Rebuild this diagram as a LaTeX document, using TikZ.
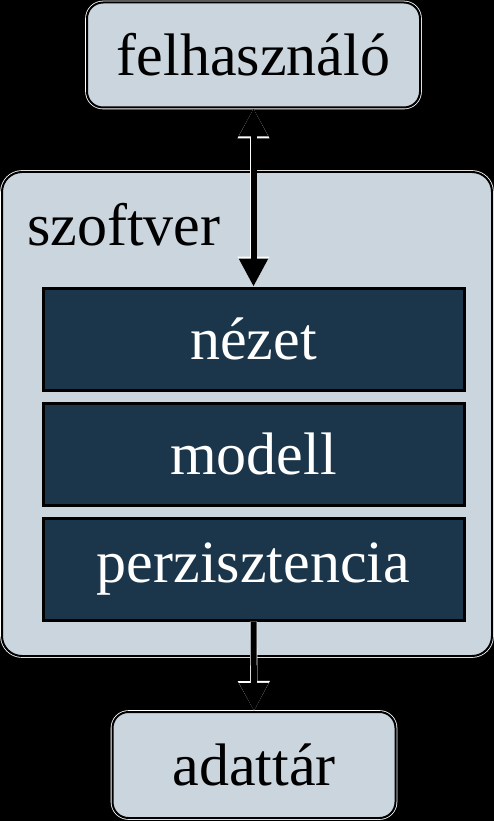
\documentclass[tikz,border=0pt]{standalone}
\usepackage{fontspec}
\setmainfont{Liberation Serif}
\usetikzlibrary{arrows.meta}
\definecolor{boxlight}{RGB}{202,213,221}
\definecolor{boxdark}{RGB}{27,54,74}
\begin{document}
\begin{tikzpicture}[x=1pt,y=-1pt,
  lightbox/.style={rectangle, rounded corners=16pt, fill=boxlight, draw=black, line width=2pt,
    preaction={draw=white, line width=3.6pt},
    inner sep=0pt, font=\fontsize{60}{72}\selectfont, text=black},
  darkbox/.style={rectangle, fill=boxdark, draw=black, line width=3pt,
    inner sep=0pt, minimum width=421pt, minimum height=102pt,
    font=\fontsize{60}{72}\selectfont, text=white},
  arr/.style={line width=6pt, draw=black,
    preaction={draw=white, line width=7.2pt}},
]
\useasboundingbox[fill=black] (0,0) rectangle (494,821);
\node[lightbox, rounded corners=20pt, minimum width=490pt, minimum height=484pt] (sw) at (247,414) {};
\node[lightbox, minimum width=333pt, minimum height=105pt] (user) at (253.5,55) {felhasználó};
\node[lightbox, minimum width=283pt, minimum height=106pt] (store) at (254,765) {adattár};
\node[anchor=base west, inner sep=0pt, font=\fontsize{60}{72}\selectfont] (swlabel) at (27,245) {szoftver};
\node[darkbox] (view) at (253.5,339) {nézet};
\node[darkbox] (model) at (253.5,454) {modell};
\node[darkbox] (pers) at (253.5,569) {perzisztencia};
\draw[line width=7.2pt, white, {Triangle[width=30pt,length=30pt]}-{Triangle[width=30pt,length=30pt]}] (user.south) -- (view.north);
\draw[line width=6pt, black, {Triangle[width=28pt,length=28pt]}-{Triangle[width=28pt,length=28pt]}] (user.south) -- (view.north);
\draw[line width=7.2pt, white, -{Triangle[width=30pt,length=30pt]}] (pers.south) -- (store.north);
\draw[line width=6pt, black, -{Triangle[width=28pt,length=28pt]}] (pers.south) -- (store.north);
\end{tikzpicture}
\end{document}
